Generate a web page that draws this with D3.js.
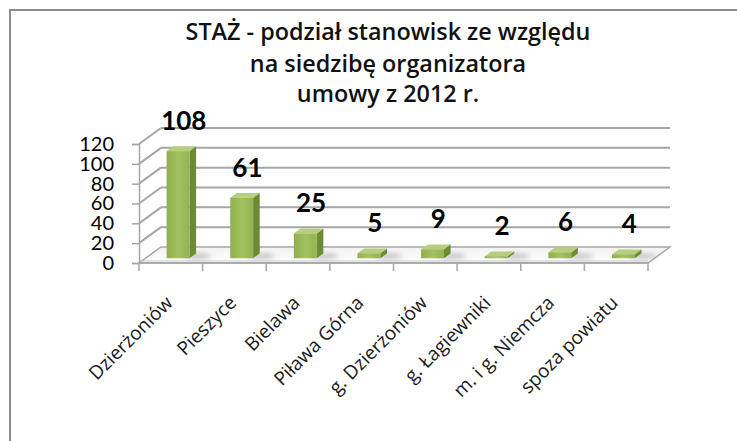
<!DOCTYPE html>
<html>
<head>
<meta charset="utf-8">
<script src="https://cdn.jsdelivr.net/npm/d3@7"></script>
<style>
  body { margin: 0; background: #fff; }
  svg { display: block; font-family: Lato, "Open Sans", sans-serif; }
</style>
</head>
<body>
<div id="chart" style="width:737px;height:441px"></div>
<script>
// Data
const categories = ["Dzierżoniów", "Pieszyce", "Bielawa", "Piława Górna",
                    "g. Dzierżoniów", "g. Łagiewniki", "m. i g. Niemcza", "spoza powiatu"];
const values = [108, 61, 25, 5, 9, 2, 6, 4];
const yTicks = [0, 20, 40, 60, 80, 100, 120];
const titleLines = ["STAŻ -  podział stanowisk ze względu",
                    "na siedzibę organizatora",
                    "umowy z 2012 r."];

// Draw a 3D-looking column chart
function columnChart3d(div) {

    let cvs = d3.select(div);
    cvs.html(null);

    let width = 737, height = 441;
    let svg = cvs.append("svg")
        .attr("width", width)
        .attr("height", height);

    // Gradients for the floor and the bars
    let defs = svg.append("defs");
    let fg = defs.append("linearGradient").attr("id", "floor")
        .attr("x1", 0).attr("y1", 0).attr("x2", 0).attr("y2", 1);
    fg.append("stop").attr("offset", "0%").attr("stop-color", "#f2f2f2");
    fg.append("stop").attr("offset", "100%").attr("stop-color", "#ffffff");
    let bg = defs.append("linearGradient").attr("id", "barFront")
        .attr("x1", 0).attr("y1", 0).attr("x2", 1).attr("y2", 0);
    bg.append("stop").attr("offset", "0%").attr("stop-color", "#8fb04c");
    bg.append("stop").attr("offset", "50%").attr("stop-color", "#a2c160");
    bg.append("stop").attr("offset", "100%").attr("stop-color", "#93b352");
    defs.append("filter").attr("id", "blur")
        .attr("x", "-50%").attr("y", "-50%").attr("width", "200%").attr("height", "200%")
        .append("feGaussianBlur").attr("stdDeviation", 2.5);

    // Outer frame (runs off the right and bottom of the picture)
    svg.append("rect")
        .attr("x", 10).attr("y", 10)
        .attr("width", 740).attr("height", 450)
        .attr("fill", "#fff")
        .attr("stroke", "#8c8c8c")
        .attr("stroke-width", 2);

    // Title, fitted so the first line is as wide as in the original
    let title = svg.append("text")
        .attr("x", 388).attr("y", 40)
        .attr("text-anchor", "middle")
        .style("font-family", "'Open Sans', sans-serif")
        .style("font-size", "20px")
        .style("font-weight", 600)
        .attr("fill", "#111");
    title.selectAll("tspan")
        .data(titleLines)
        .join("tspan")
            .attr("x", 388)
            .attr("dy", (d, i) => i == 0 ? 0 : (i == 1 ? 32 : 30))
            .text(d => d);
    let w1 = title.select("tspan").node().getComputedTextLength();
    title.style("font-size", (20 * 405 / w1) + "px");

    // Scales: front plane, and the depth offset of the back wall
    let x = d3.scaleBand()
        .domain(categories)
        .range([139, 648]);
    let y = d3.scaleLinear()
        .domain([0, 120])
        .range([263, 144]);
    let depth = { dx: 22, dy: -16 };

    // Floor
    let y0 = y(0);
    svg.append("path")
        .attr("d", "M" + 139 + "," + y0 + "L" + 648 + "," + y0 +
                   "L" + (648 + depth.dx) + "," + (y0 + depth.dy) +
                   "L" + (139 + depth.dx) + "," + (y0 + depth.dy) + "Z")
        .attr("fill", "url(#floor)")
        .attr("stroke", "#a6a6a6")
        .attr("stroke-width", 1.5);
    svg.append("line")
        .attr("x1", 139).attr("x2", 648)
        .attr("y1", y0 - 2).attr("y2", y0 - 2)
        .attr("stroke", "#c8c8c8");

    // Back wall gridlines and the diagonal lines on the side wall
    let grid = svg.append("g")
        .attr("stroke", "#a6a6a6")
        .attr("stroke-width", 2);
    grid.selectAll("line.back")
        .data(yTicks.slice(1))
        .join("line")
            .attr("class", "back")
            .attr("x1", 139 + depth.dx).attr("x2", 648 + depth.dx)
            .attr("y1", d => y(d) + depth.dy).attr("y2", d => y(d) + depth.dy);
    grid.selectAll("line.side")
        .data(yTicks.slice(1))
        .join("line")
            .attr("class", "side")
            .attr("x1", 139).attr("x2", 139 + depth.dx)
            .attr("y1", d => y(d)).attr("y2", d => y(d) + depth.dy);

    // Y axis on the front plane
    let yAxis = svg.append("g")
        .attr("transform", "translate(139,0)")
        .call(d3.axisLeft(y).tickValues(yTicks).tickSize(7).tickPadding(18));
    yAxis.select(".domain").attr("stroke", "#a6a6a6").attr("stroke-width", 1.5);
    yAxis.selectAll(".tick line").attr("stroke", "#a6a6a6").attr("stroke-width", 1.5);
    yAxis.selectAll(".tick text")
        .style("font-size", "20px")
        .style("font-family", "Lato, sans-serif")
        .attr("fill", "#000");

    // X axis: ticks on the band edges, labels turned 45 degrees
    let edges = categories.map(c => x(c)).concat([x.range()[1]]);
    svg.append("g")
        .selectAll("line")
        .data(edges)
        .join("line")
            .attr("x1", d => d).attr("x2", d => d)
            .attr("y1", y0).attr("y2", y0 + 8)
            .attr("stroke", "#a6a6a6")
            .attr("stroke-width", 1.5);
    svg.append("line")
        .attr("x1", 139).attr("x2", 648)
        .attr("y1", y0).attr("y2", y0)
        .attr("stroke", "#a6a6a6")
        .attr("stroke-width", 1.5);
    svg.append("g")
        .selectAll("text")
        .data(categories)
        .join("text")
            .attr("transform", d => "translate(" + (x(d) + x.bandwidth() / 2 + 3) + "," + (y0 + 41) + ") rotate(-45)")
            .attr("text-anchor", "end")
            .style("font-family", "'Open Sans', sans-serif")
            .style("font-size", "19px")
            .attr("fill", "#1a1a1a")
            .text(d => d);

    // Bars: front face, side and top, set a little back from the front plane
    let bw = x.bandwidth();
    let f = 0.3, bd = 0.3;                         // depth of bar front, depth of bar
    let ox = depth.dx * f, oy = depth.dy * f;      // shift of the bar front face
    let sx = depth.dx * bd, sy = depth.dy * bd;    // bar thickness in depth
    let base = y0 + oy;
    let h = v => y0 - y(v);

    let bars = svg.append("g")
        .selectAll("g")
        .data(values)
        .join("g");

    // Soft shadow on the floor behind each bar
    bars.append("ellipse")
        .attr("cx", (d, i) => x(categories[i]) + bw * 0.33 + ox + bw * 0.36 + 8)
        .attr("cy", base - 2)
        .attr("rx", 14).attr("ry", 3)
        .attr("fill", "#b0b0b0")
        .attr("opacity", 0.7)
        .attr("filter", "url(#blur)");

    bars.append("path")   // side
        .attr("d", (d, i) => {
            let x1 = x(categories[i]) + bw * 0.33 + ox + bw * 0.36;
            let t = base - h(d);
            return "M" + x1 + "," + base + "L" + (x1 + sx) + "," + (base + sy) +
                   "L" + (x1 + sx) + "," + (t + sy) + "L" + x1 + "," + t + "Z";
        })
        .attr("fill", "#6f8a35");
    bars.append("path")   // top
        .attr("d", (d, i) => {
            let x0 = x(categories[i]) + bw * 0.33 + ox;
            let x1 = x0 + bw * 0.36;
            let t = base - h(d);
            return "M" + x0 + "," + t + "L" + x1 + "," + t +
                   "L" + (x1 + sx) + "," + (t + sy) + "L" + (x0 + sx) + "," + (t + sy) + "Z";
        })
        .attr("fill", "#b5cf7c");
    bars.append("rect")   // front
        .attr("x", (d, i) => x(categories[i]) + bw * 0.33 + ox)
        .attr("y", d => base - h(d))
        .attr("width", bw * 0.36)
        .attr("height", d => h(d))
        .attr("fill", "url(#barFront)");

    // Value labels above the bars
    svg.append("g")
        .selectAll("text")
        .data(values)
        .join("text")
            .attr("x", (d, i) => x(categories[i]) + bw / 2 + 13)
            .attr("y", d => base - h(d) - 21)
            .attr("text-anchor", "middle")
            .style("font-size", "26px")
            .style("font-weight", "bold")
            .attr("fill", "#000")
            .text(d => d);
}

columnChart3d("#chart");
</script>
</body>
</html>
